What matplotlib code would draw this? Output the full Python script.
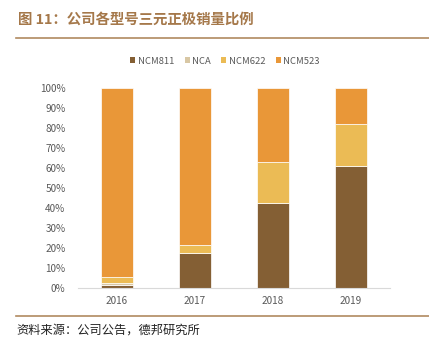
import matplotlib
matplotlib.use("Agg")
import matplotlib.pyplot as plt
import numpy as np
from matplotlib.lines import Line2D
from matplotlib.patches import Patch

plt.rcParams['font.family'] = ['Noto Sans CJK SC', 'DejaVu Sans']

years = ["2016", "2017", "2018", "2019"]
series_names = ["NCM811", "NCA", "NCM622", "NCM523"]
ncm811 = [1.5, 17.3, 42.7, 61.2]
nca = [1.0, 0.0, 0.0, 0.0]
ncm622 = [3.2, 4.0, 20.5, 21.0]
ncm523 = [94.3, 78.7, 36.8, 17.8]
colors = ["#845F34", "#D8C7A4", "#EBBB55", "#E99738"]
yticks = [0, 10, 20, 30, 40, 50, 60, 70, 80, 90, 100]

fig = plt.figure(figsize=(4.29, 3.51), dpi=100)
ax = fig.add_axes([78/429, 1-288/351, 312/429, 200/351])

x = np.arange(len(years))
bottom = np.zeros(len(years))
for name, vals, c in zip(series_names, [ncm811, nca, ncm622, ncm523], colors):
    v = np.array(vals) / 100.0
    ax.bar(x, v, bottom=bottom, width=0.41, color=c, edgecolor="white", linewidth=0.5, label=name)
    bottom += v

ax.set_xlim(-0.5, 3.5)
ax.set_ylim(0, 1.0)
ax.set_xticks(x)
ax.set_xticklabels(years)
ax.set_yticks([t/100 for t in yticks])
ax.set_yticklabels([f"{t}%" for t in yticks])
for s in ["top", "right", "left"]:
    ax.spines[s].set_visible(False)
ax.spines["bottom"].set_color("#D9D9D9")
ax.spines["bottom"].set_linewidth(0.8)
ax.tick_params(axis="both", length=0, labelsize=7.2, colors="#595959", pad=6)
ax.tick_params(axis="y", pad=9)

handles = [Patch(facecolor=c, edgecolor="none") for c in colors]
fig.legend(handles, series_names, loc="center", bbox_to_anchor=(225/429, 1-61/351), ncol=4,
           frameon=False, fontsize=6.8, handlelength=0.55, handleheight=0.55, handletextpad=0.25,
           columnspacing=1.1, labelcolor="#595959")

fig.text(18/429, 1-20/351, "图 11：公司各型号三元正极销量比例", fontsize=10.4, fontweight="bold",
         color="#A5784A", va="center", ha="left")
fig.add_artist(Line2D([16/429, 1.0], [1-38/351, 1-38/351], color="#B08A60", linewidth=1.2))
fig.add_artist(Line2D([16/429, 1.0], [1-316/351, 1-316/351], color="#B08A60", linewidth=1.2))
fig.text(16/429, 1-330/351, "资料来源：公司公告，德邦研究所", fontsize=8.8, color="#222222",
         va="center", ha="left")

fig.savefig("out.png", dpi=100)
